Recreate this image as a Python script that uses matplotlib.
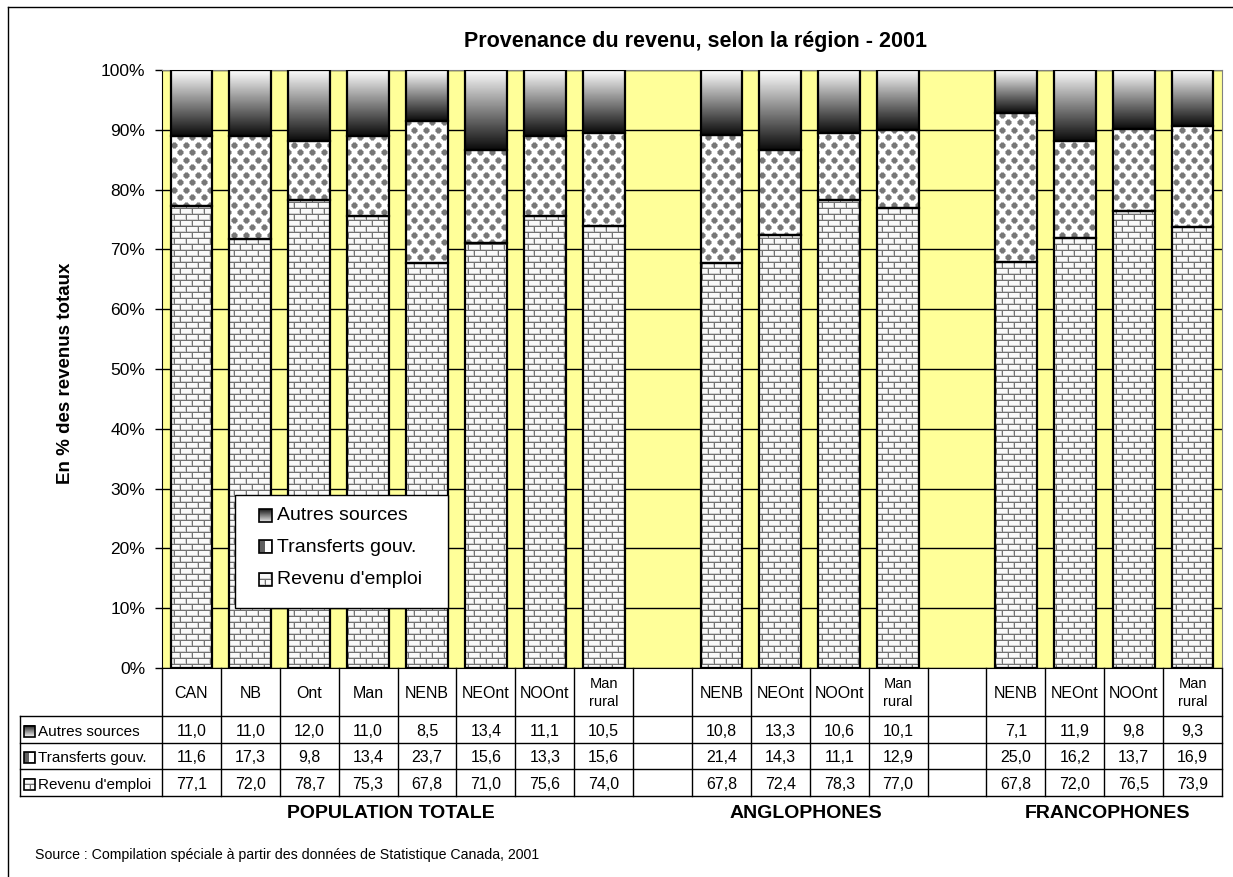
import numpy as np
import matplotlib

matplotlib.use("Agg")
import matplotlib.pyplot as plt  # noqa: E402
from matplotlib.path import Path  # noqa: E402
from matplotlib.patches import PathPatch, Rectangle  # noqa: E402

plt.rcParams["font.family"] = ["Liberation Sans", "DejaVu Sans"]

TITLE = "Provenance du revenu, selon la région - 2001"
YLABEL = "En % des revenus totaux"
SOURCE = "Source : Compilation spéciale à partir des données de Statistique Canada, 2001"

REGIONS = ["CAN", "NB", "Ont", "Man", "NENB", "NEOnt", "NOOnt", "Man\nrural", "",
           "NENB", "NEOnt", "NOOnt", "Man\nrural", "",
           "NENB", "NEOnt", "NOOnt", "Man\nrural"]
NAN = np.nan
AUTRES = [11.0, 11.0, 12.0, 11.0, 8.5, 13.4, 11.1, 10.5, NAN,
          10.8, 13.3, 10.6, 10.1, NAN,
          7.1, 11.9, 9.8, 9.3]
TRANSFERTS = [11.6, 17.3, 9.8, 13.4, 23.7, 15.6, 13.3, 15.6, NAN,
              21.4, 14.3, 11.1, 12.9, NAN,
              25.0, 16.2, 13.7, 16.9]
EMPLOI = [77.1, 72.0, 78.7, 75.3, 67.8, 71.0, 75.6, 74.0, NAN,
          67.8, 72.4, 78.3, 77.0, NAN,
          67.8, 72.0, 76.5, 73.9]
SERIES = ["Autres sources", "Transferts gouv.", "Revenu d'emploi"]
GROUPS = ["POPULATION TOTALE", "ANGLOPHONES", "FRANCOPHONES"]
GROUP_X = [391, 806, 1108]  # label centres, px

# layout in pixels
W, H = 1233, 877
AX_L, AX_R, AX_T, AX_B = 162, 1222, 70, 668
ROWS_Y = [716, 743, 769, 796]
TAB_L = 20


def brick_texture(h, w):
    yy, xx = np.mgrid[0:h, 0:w]
    shift = ((yy // 6) % 2) * 6
    mortar = (yy % 6 == 0) | ((xx + shift) % 12 == 0)
    shade = (yy % 6 == 5) | ((xx + shift) % 12 == 11)
    img = np.full((h, w), 0.98)
    img[shade] = 0.82
    img[mortar] = 0.45
    return np.dstack([img] * 3)


def dot_texture(h, w):
    yy, xx = np.mgrid[0:h, 0:w]
    d1 = (xx % 12 - 6) ** 2 + (yy % 15 - 7) ** 2
    d2 = ((xx + 6) % 12 - 6) ** 2 + ((yy + 7) % 15 - 7) ** 2
    d = np.minimum(d1, d2)
    img = np.ones((h, w))
    img[d <= 12] = 0.72
    img[d <= 6] = 0.47
    return np.dstack([img] * 3)


def clip_to_bars(im, bars, ax):
    paths = [r.get_path().transformed(r.get_patch_transform())
             for r in bars if np.isfinite(r.get_height())]
    patch = PathPatch(Path.make_compound_path(*paths), transform=ax.transData)
    im.set_clip_path(patch)


def fmt(v):
    return f"{v:.1f}".replace(".", ",")


fig = plt.figure(figsize=(W / 100, H / 100), dpi=100)
ax = fig.add_axes([AX_L / W, 1 - AX_B / H, (AX_R - AX_L) / W, (AX_B - AX_T) / H])
ax.set_facecolor("#FFFF99")

a = np.array(AUTRES)
t = np.array(TRANSFERTS)
e = np.array(EMPLOI)
tot = a + t + e
a_h, t_h, e_h = a / tot * 100, t / tot * 100, e / tot * 100
x = np.arange(len(REGIONS))
bw = 0.71

b_e = ax.bar(x, e_h, bw, facecolor="none", edgecolor="black", lw=1.6, zorder=4)
b_t = ax.bar(x, t_h, bw, bottom=e_h, facecolor="none", edgecolor="black", lw=1.6, zorder=4)
b_a = ax.bar(x, a_h, bw, bottom=e_h + t_h, facecolor="none", edgecolor="black", lw=1.6, zorder=4)

axw, axh = AX_R - AX_L, AX_B - AX_T
ext = (-0.5, len(REGIONS) - 0.5, 0, 100)
im = ax.imshow(brick_texture(axh, axw), extent=ext, aspect="auto",
               interpolation="nearest", zorder=3)
clip_to_bars(im, b_e, ax)
im = ax.imshow(dot_texture(axh, axw), extent=ext, aspect="auto",
               interpolation="nearest", zorder=3)
clip_to_bars(im, b_t, ax)
grad = np.linspace(0.04, 1.0, 256)[:, None]
for r in b_a:
    if not np.isfinite(r.get_height()):
        continue
    x0, y0 = r.get_x(), r.get_y()
    ax.imshow(grad, cmap="gray", vmin=0, vmax=1, origin="lower", aspect="auto",
              extent=(x0, x0 + r.get_width(), y0, y0 + r.get_height()),
              interpolation="bilinear", zorder=3)

ax.set_xlim(-0.5, len(REGIONS) - 0.5)
ax.set_ylim(0, 100)
ax.set_yticks(np.arange(0, 101, 10))
ax.set_yticklabels([f"{v}%" for v in range(0, 101, 10)], fontsize=12.5)
ax.set_xticks([])
ax.tick_params(axis="y", direction="out", length=5, width=1, pad=7)
ax.yaxis.grid(True, color="black", lw=1)
ax.set_axisbelow(True)
for side in ("top", "right"):
    ax.spines[side].set_color("#808080")
for side in ("left", "bottom"):
    ax.spines[side].set_color("black")

# overlay in pixel coordinates for table, legend, texts
ov = fig.add_axes([0, 0, 1, 1], zorder=5)
ov.set_xlim(0, W)
ov.set_ylim(H, 0)
ov.axis("off")

ov.plot([8, 8], [7, H], color="black", lw=1)
ov.plot([8, W], [7, 7], color="black", lw=1)

ov.text(695, 42, TITLE, ha="center", va="center", fontsize=15.5, fontweight="bold")
ov.text(65, 373, YLABEL, ha="center", va="center", rotation=90,
        fontsize=13.5, fontweight="bold")

slot = (AX_R - AX_L) / len(REGIONS)
for k in range(len(REGIONS) + 1):
    xk = AX_L + k * slot
    ov.plot([xk, xk], [AX_B, ROWS_Y[-1]], color="black", lw=1)
for yk in ROWS_Y:
    ov.plot([TAB_L, AX_R], [yk, yk], color="black", lw=1)
ov.plot([TAB_L, TAB_L], [ROWS_Y[0], ROWS_Y[-1]], color="black", lw=1)

for k, lab in enumerate(REGIONS):
    xc = AX_L + (k + 0.5) * slot
    two = "\n" in lab
    ov.text(xc, (AX_B + ROWS_Y[0]) / 2 + 1, lab, ha="center", va="center",
            fontsize=10.5 if two else 11.5, linespacing=1.3)
    for j, vals in enumerate((AUTRES, TRANSFERTS, EMPLOI)):
        if np.isfinite(vals[k]):
            ov.text(xc, (ROWS_Y[j] + ROWS_Y[j + 1]) / 2 + 2, fmt(vals[k]),
                    ha="center", va="center", fontsize=11.5)


def draw_key(kind, xk, yk, s):
    box = (xk, xk + s, yk + s, yk)
    if kind == 0:
        ov.imshow(np.linspace(0.1, 0.9, 32)[:, None], cmap="gray", vmin=0, vmax=1,
                  extent=box, aspect="auto", zorder=6)
    elif kind == 1:
        ov.add_patch(Rectangle((xk, yk), s, s, facecolor="#606060", zorder=6))
        ov.add_patch(Rectangle((xk + s * 0.45, yk + 1), s * 0.5, s - 2,
                               facecolor="white", zorder=6))
    else:
        ov.imshow(brick_texture(s, s), extent=box, aspect="auto",
                  interpolation="nearest", zorder=6)
    ov.add_patch(Rectangle((xk, yk), s, s, facecolor="none", edgecolor="black",
                           lw=1.2, zorder=7))


for j, name in enumerate(SERIES):
    yc = (ROWS_Y[j] + ROWS_Y[j + 1]) / 2 + 2
    draw_key(j, 24, yc - 6, 11)
    ov.text(38, yc, name, ha="left", va="center", fontsize=11)

# legend
ov.add_patch(Rectangle((235, 495), 213, 113, facecolor="white", edgecolor="black",
                       lw=1, zorder=5))
for j, (name, yc) in enumerate(zip(SERIES, (516, 547, 580))):
    draw_key(j, 259, yc - 7, 13)
    ov.text(277, yc, name, ha="left", va="center", fontsize=14, zorder=7)

for name, gx in zip(GROUPS, GROUP_X):
    ov.text(gx, 813, name, ha="center", va="center", fontsize=14, fontweight="bold")

ov.text(35, 855, SOURCE, ha="left", va="center", fontsize=10.2)
ov.set_xlim(0, W)
ov.set_ylim(H, 0)

fig.savefig("out.png", dpi=100)
